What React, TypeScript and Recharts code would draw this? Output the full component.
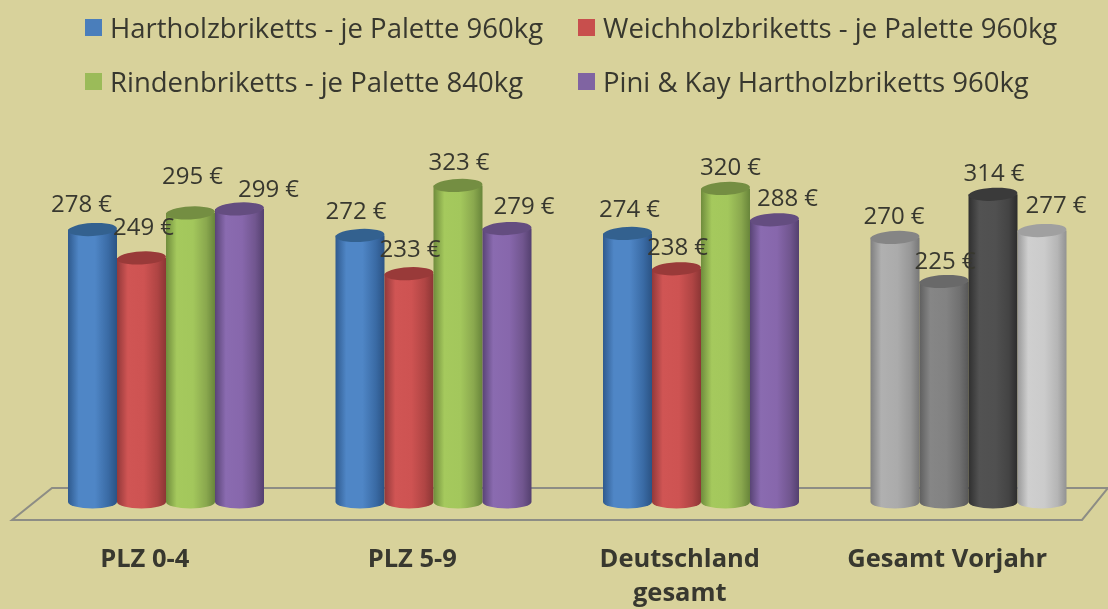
import React from "react";
import { BarChart, Bar, XAxis, YAxis, Legend, LabelList } from "recharts";

const categories = ["PLZ 0-4", "PLZ 5-9", "Deutschland gesamt", "Gesamt Vorjahr"];
const hartholz = [278, 272, 274, 270];
const weichholz = [249, 233, 238, 225];
const rinden = [295, 323, 320, 314];
const pini = [299, 279, 288, 277];

const seriesNames = [
  "Hartholzbriketts - je Palette 960kg",
  "Weichholzbriketts - je Palette 960kg",
  "Rindenbriketts - je Palette 840kg",
  "Pini & Kay Hartholzbriketts 960kg",
];
const seriesValues = [hartholz, weichholz, rinden, pini];
const seriesColors = ["#4a7ebb", "#c84f4d", "#9bbb59", "#8064a2"];
const seriesGradients = [
  ["#2f5a8e", "#4f86c6", "#4f86c6", "#3a6ba5", "#2b5384"],
  ["#93393a", "#d05554", "#ce5352", "#b04544", "#8c3635"],
  ["#6f8c3c", "#a5c95d", "#a3c75c", "#8aa84e", "#68853a"],
  ["#594476", "#8a6bb0", "#8767ac", "#71568f", "#54406f"],
];
const seriesTops = ["#33618f", "#993a39", "#748e42", "#644d80"];
const priorGradients = [
  ["#7f7f7f", "#b0b0b0", "#ababab", "#979797", "#777777"],
  ["#5f5f5f", "#868686", "#828282", "#707070", "#585858"],
  ["#2f2f2f", "#525252", "#505050", "#444444", "#2c2c2c"],
  ["#9a9a9a", "#cfcfcf", "#cbcbcb", "#b5b5b5", "#929292"],
];
const priorTops = ["#858585", "#696969", "#3a3a3a", "#a0a0a0"];
const labelDx = [
  [-11, -4, 2, -1],
  [2, 1, 1, 1],
  [2, 1, 5, 1],
  [29, 17, 13, 14],
];
const labelDy = [
  [-27, -26, -26, -23],
  [-32, -26, -23, -22],
  [-38, -25, -23, -23],
  [-21, -24, -23, -27],
];

const rows = categories.map((name, i) => {
  const row: Record<string, string | number> = { name };
  seriesNames.forEach((s, k) => {
    row[s] = seriesValues[k][i];
  });
  return row;
});

const TEXT = "#38382f";
const FONT = "'Open Sans', sans-serif";
const PRIOR_INDEX = categories.length - 1;

function cylinder(k: number) {
  return (props: any) => {
    const { x, y, width, height, index } = props;
    const isPrior = index === PRIOR_INDEX;
    const ry = 6.5;
    const rx = width / 2;
    const grad = `url(#cyl-${isPrior ? "p" : "s"}${k})`;
    const top = isPrior ? priorTops[k] : seriesTops[k];
    const bottom = y + height;
    return (
      <g>
        <path
          d={`M${x},${y} L${x + width},${y} L${x + width},${bottom} A${rx},${ry} 0 0 1 ${x},${bottom} Z`}
          fill={grad}
        />
        <ellipse
          cx={x + rx}
          cy={y}
          rx={rx}
          ry={ry}
          fill={top}
          transform={`rotate(-3 ${x + rx} ${y})`}
        />
      </g>
    );
  };
}

function valueLabel(k: number) {
  return (props: any) => {
    const { x, y, width, value, index } = props;
    return (
      <text
        x={x + width / 2 + labelDx[k][index]}
        y={y + labelDy[k][index]}
        textAnchor="middle"
        dominantBaseline="central"
        fontFamily={FONT}
        fontSize={24}
        fill={TEXT}
      >
        {`${value} €`}
      </text>
    );
  };
}

function CategoryTick(props: any) {
  const { x, y, payload } = props;
  const text: string = payload.value;
  const space = text.indexOf(" ");
  const lines = text === "Deutschland gesamt" ? [text.slice(0, space), text.slice(space + 1)] : [text];
  return (
    <text x={x - 21} y={y + 9} textAnchor="middle" fontFamily={FONT} fontWeight={700} fontSize={25.5} fill={TEXT}>
      {lines.map((l, i) => (
        <tspan key={l} x={x - 21} dy={i === 0 ? 0 : 34}>
          {l}
        </tspan>
      ))}
    </text>
  );
}

function LegendContent(props: any) {
  const payload: any[] = props.payload || [];
  return (
    <div
      style={{
        display: "grid",
        gridTemplateColumns: "493px 500px",
        gridAutoRows: "54px",
        fontFamily: FONT,
        fontSize: 27.5,
        color: TEXT,
      }}
    >
      {payload.map((p) => (
        <div key={p.value} style={{ display: "flex", alignItems: "center", whiteSpace: "nowrap" }}>
          <span style={{ width: 17, height: 17, background: p.color, marginRight: 8, display: "inline-block" }} />
          {p.value}
        </div>
      ))}
    </div>
  );
}

function Floor() {
  return (
    <polygon
      points="12,520 52,488 1108,488 1082,520"
      fill="none"
      stroke="#8d8d85"
      strokeWidth={2}
    />
  );
}

export default function App() {
  return (
    <div style={{ position: "absolute", left: 0, top: 0, width: 1108, height: 609, background: "#d8d29b", overflow: "hidden" }}>
      <div style={{ filter: "blur(0.7px)" }}>
        <BarChart
          width={1108}
          height={609}
          data={rows}
          margin={{ top: 12, right: 6, bottom: 0, left: 32 }}
          barCategoryGap={36}
          barGap={0}
        >
          <defs>
            {[...seriesGradients.map((g, k) => ["s" + k, g] as const), ...priorGradients.map((g, k) => ["p" + k, g] as const)].map(
              ([id, stops]) => (
                <linearGradient key={id} id={`cyl-${id}`} x1="0" y1="0" x2="1" y2="0">
                  {stops.map((c, i) => (
                    <stop key={i} offset={`${[0, 22, 55, 82, 100][i]}%`} stopColor={c} />
                  ))}
                </linearGradient>
              )
            )}
          </defs>
          <Floor />
          <XAxis
            dataKey="name"
            axisLine={false}
            tickLine={false}
            height={107}
            tick={<CategoryTick />}
            tickMargin={0}
            tickSize={56}
            interval={0}
          />
          <YAxis hide domain={[0, 500]} />
          <Legend
            layout="horizontal"
            verticalAlign="middle"
            align="center"
            itemSorter={null}
            content={<LegendContent />}
            wrapperStyle={{ position: "absolute", left: 85, top: 0, width: 1010, height: 108 }}
          />
          {seriesNames.map((s, k) => (
            <Bar key={s} dataKey={s} fill={seriesColors[k]} barSize={49} shape={cylinder(k)} isAnimationActive={false}>
              <LabelList dataKey={s} content={valueLabel(k)} />
            </Bar>
          ))}
        </BarChart>
      </div>
    </div>
  );
}
